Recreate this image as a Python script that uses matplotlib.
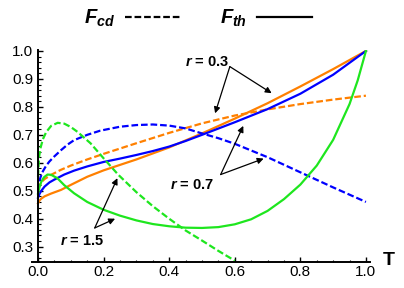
import matplotlib
matplotlib.use("Agg")
import matplotlib.pyplot as plt
from matplotlib.lines import Line2D
from matplotlib.ticker import MultipleLocator

plt.rcParams['font.family'] = ['Liberation Sans', 'DejaVu Sans']
plt.rcParams['mathtext.fontset'] = 'custom'
plt.rcParams['mathtext.it'] = 'Liberation Sans:italic:bold'
plt.rcParams['mathtext.rm'] = 'Liberation Sans:bold'
plt.rcParams['mathtext.bf'] = 'Liberation Sans:bold'

# r = 0.3 (orange)
t_o_th = [0, 0.005, 0.01, 0.02, 0.04, 0.07, 0.1, 0.15, 0.2, 0.3, 0.4, 0.5, 0.6, 0.7, 0.8, 0.9, 1.0]
f_o_th = [0.455, 0.466, 0.472, 0.48, 0.49, 0.503, 0.521, 0.55, 0.573, 0.612, 0.655, 0.705, 0.758, 0.813, 0.873, 0.935, 1.0]
t_o_cd = [0, 0.005, 0.01, 0.02, 0.04, 0.07, 0.1, 0.15, 0.2, 0.3, 0.4, 0.5, 0.6, 0.7, 0.8, 0.9, 1.0]
f_o_cd = [0.505, 0.52, 0.53, 0.542, 0.557, 0.575, 0.59, 0.612, 0.632, 0.67, 0.707, 0.741, 0.769, 0.791, 0.81, 0.826, 0.84]

# r = 0.7 (blue)
t_b_th = [0, 0.005, 0.01, 0.02, 0.035, 0.05, 0.08, 0.11, 0.15, 0.2, 0.25, 0.3, 0.35, 0.4, 0.45, 0.5,
          0.6, 0.7, 0.8, 0.9, 1.0]
f_b_th = [0.475, 0.49, 0.5, 0.515, 0.53, 0.54, 0.558, 0.572, 0.587, 0.603, 0.615, 0.628, 0.642, 0.658,
          0.678, 0.7, 0.745, 0.792, 0.847, 0.915, 1.0]
t_b_cd = [0, 0.003, 0.008, 0.015, 0.025, 0.035, 0.049, 0.07, 0.09, 0.11, 0.15, 0.19, 0.25, 0.3, 0.35,
          0.4, 0.45, 0.5, 0.55, 0.6, 0.7, 0.8, 0.9, 1.0]
f_b_cd = [0.5, 0.53, 0.55, 0.57, 0.59, 0.605, 0.622, 0.645, 0.665, 0.681, 0.7, 0.715, 0.729, 0.735, 0.737,
          0.733, 0.723, 0.705, 0.688, 0.668, 0.62, 0.566, 0.512, 0.46]

# r = 1.5 (green)
t_g_th = [0, 0.005, 0.01, 0.018, 0.029, 0.04, 0.059, 0.08, 0.11, 0.15, 0.2, 0.25, 0.3, 0.35, 0.4, 0.45,
          0.5, 0.55, 0.6, 0.65, 0.7, 0.75, 0.8, 0.85, 0.9, 0.95, 0.975, 1.0]
f_g_th = [0.49, 0.515, 0.532, 0.548, 0.558, 0.557, 0.545, 0.52, 0.491, 0.46, 0.432, 0.411, 0.394, 0.381,
          0.373, 0.368, 0.367, 0.37, 0.38, 0.398, 0.428, 0.47, 0.522, 0.59, 0.682, 0.81, 0.895, 1.0]
t_g_cd = [0, 0.003, 0.008, 0.015, 0.025, 0.04, 0.06, 0.08, 0.1, 0.12, 0.16, 0.2, 0.245, 0.3, 0.35, 0.4,
          0.45, 0.5, 0.55, 0.6]
f_g_cd = [0.55, 0.62, 0.655, 0.685, 0.71, 0.732, 0.743, 0.74, 0.728, 0.711, 0.67, 0.616, 0.557, 0.495,
          0.445, 0.4, 0.358, 0.322, 0.285, 0.25]

ORANGE = '#FF8000'
BLUE = '#0000FF'
GREEN = '#1EE61E'
LW = 1.6
DASH = (3, 1.3)

fig = plt.figure(figsize=(4.04, 2.88), dpi=100)
ax = fig.add_axes([0.0795, 0.092, 0.836, 0.734])

ax.plot(t_o_th, f_o_th, color=ORANGE, lw=LW)
ax.plot(t_o_cd, f_o_cd, color=ORANGE, lw=LW, dashes=DASH)
ax.plot(t_b_th, f_b_th, color=BLUE, lw=LW)
ax.plot(t_b_cd, f_b_cd, color=BLUE, lw=LW, dashes=DASH)
ax.plot(t_g_th, f_g_th, color=GREEN, lw=LW)
ax.plot(t_g_cd, f_g_cd, color=GREEN, lw=LW, dashes=DASH)

ax.set_xlim(-0.018, 1.012)
ax.set_ylim(0.247, 1.003)

# axes like Mathematica: only left/bottom, ticks inwards
ax.spines['top'].set_visible(False)
ax.spines['right'].set_visible(False)
ax.spines['left'].set_position(('data', 0))
for s in ('left', 'bottom'):
    ax.spines[s].set_linewidth(1.4)
ax.xaxis.set_major_locator(MultipleLocator(0.2))
ax.xaxis.set_minor_locator(MultipleLocator(0.05))
ax.yaxis.set_major_locator(MultipleLocator(0.1))
ax.yaxis.set_minor_locator(MultipleLocator(0.02))
ax.set_xticks([0, 0.2, 0.4, 0.6, 0.8, 1.0])
ax.set_yticks([0.3, 0.4, 0.5, 0.6, 0.7, 0.8, 0.9, 1.0])
ax.tick_params(which='major', direction='in', length=3.5, width=1.0, labelsize=11, pad=2.5)
ax.tick_params(which='minor', direction='in', length=1.8, width=0.8)
ax.tick_params(axis='y', which='major', pad=3.5)

ax.text(1.056, 0.005, 'T', transform=ax.transAxes, ha='center', va='center',
        fontsize=14, fontweight='bold', clip_on=False)

arrow = dict(arrowstyle='-|>', lw=0.9, color='black', mutation_scale=9, shrinkA=0, shrinkB=0)
lab = dict(fontsize=10.5, fontweight='bold', ha='center', va='center')

# r = 0.3
ax.text(0.515, 0.962, '$r$ = 0.3', **lab)
ax.annotate('', xy=(0.7125, 0.849), xytext=(0.585, 0.944), arrowprops=arrow)
ax.annotate('', xy=(0.54, 0.777), xytext=(0.585, 0.944), arrowprops=arrow)
# r = 0.7
ax.text(0.47, 0.522, '$r$ = 0.7', **lab)
ax.annotate('', xy=(0.626, 0.732), xytext=(0.557, 0.558), arrowprops=arrow)
ax.annotate('', xy=(0.688, 0.615), xytext=(0.557, 0.558), arrowprops=arrow)
# r = 1.5
ax.text(0.134, 0.32, '$r$ = 1.5', **lab)
ax.annotate('', xy=(0.242, 0.545), xytext=(0.173, 0.367), arrowprops=arrow)
ax.annotate('', xy=(0.235, 0.40), xytext=(0.173, 0.367), arrowprops=arrow)

handles = [Line2D([], [], color='black', lw=1.6, dashes=(3, 1.3)),
           Line2D([], [], color='black', lw=1.6)]
fig.legend(handles, ['$F_{cd}$', '$F_{th}$'], loc='center', bbox_to_anchor=(0.49, 0.935),
           ncol=2, frameon=False, markerfirst=False, fontsize=14.5, handlelength=2.7,
           handletextpad=0.5, columnspacing=2.0)

fig.savefig('out.png', dpi=100)
